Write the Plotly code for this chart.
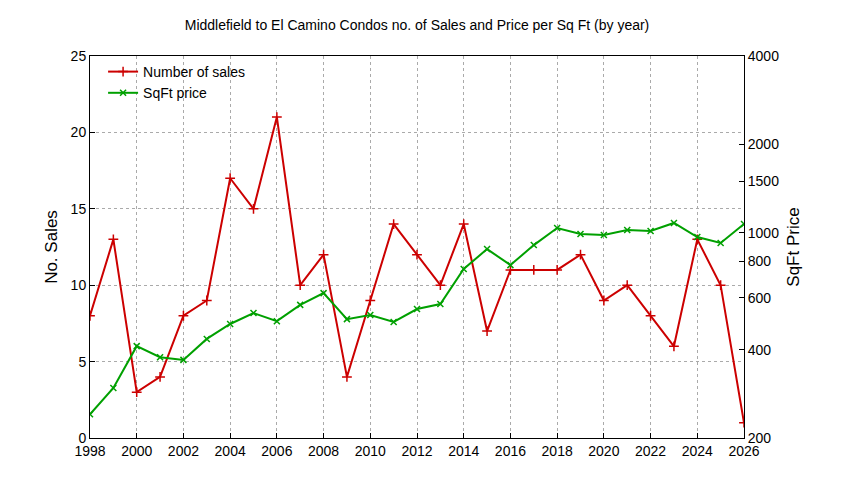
import plotly.graph_objects as go

years = list(range(1998, 2027))
sales = [8,13,3,4,8,9,17,15,21,10,12,4,9,14,12,10,14,7,11,11,11,12,9,10,8,6,13,10,1]
sqft = [241,296,411,377,369,435,489,533,500,568,623,508,525,497,550,572,753,880,776,908,1038,991,983,1022,1014,1080,967,923,1071]
right_ticks = [200,400,600,800,1000,1500,2000,4000]

fig = go.Figure()
fig.add_trace(go.Scatter(x=years, y=sales, name="Number of sales", mode="lines+markers",
    line=dict(color="#cc0000", width=2), marker=dict(symbol="cross-thin", size=7, line=dict(color="#cc0000", width=1.5))))
fig.add_trace(go.Scatter(x=years, y=sqft, name="SqFt price", mode="lines+markers", yaxis="y2",
    line=dict(color="#00a000", width=2), marker=dict(symbol="x-thin", size=6, line=dict(color="#00a000", width=1.5))))

ax = dict(showline=True, linecolor="black", ticks="inside", tickcolor="black",
          gridcolor="#aaaaaa", griddash="dot", zeroline=False)
fig.update_layout(
    width=844, height=480, plot_bgcolor="white", paper_bgcolor="white",
    font=dict(family="Liberation Sans, Arial", size=14, color="black"),
    margin=dict(l=82, r=108, t=48, b=50),
    title=dict(text="Middlefield to El Camino Condos no. of Sales and Price per Sq Ft (by year)",
               x=0.5, xref="paper", y=0.975, font=dict(size=14)),
    xaxis=dict(**ax, range=[1998, 2026], tickvals=list(range(1998, 2027, 2)), mirror=True),
    yaxis=dict(**ax, range=[0, 25], dtick=5, title=dict(text="No. Sales", standoff=8)),
    yaxis2=dict(overlaying="y", side="right", type="log", range=[2.30103, 3.60206],
                tickvals=right_ticks, ticktext=[str(t) for t in right_ticks], showgrid=False,
                showline=True, linecolor="black", ticks="inside", tickcolor="black",
                title=dict(text="SqFt Price", standoff=8)),
    legend=dict(x=0.02, y=1.0, xanchor="left", yanchor="top", bgcolor="rgba(255,255,255,0)"),
)
fig.write_html("out.html")
